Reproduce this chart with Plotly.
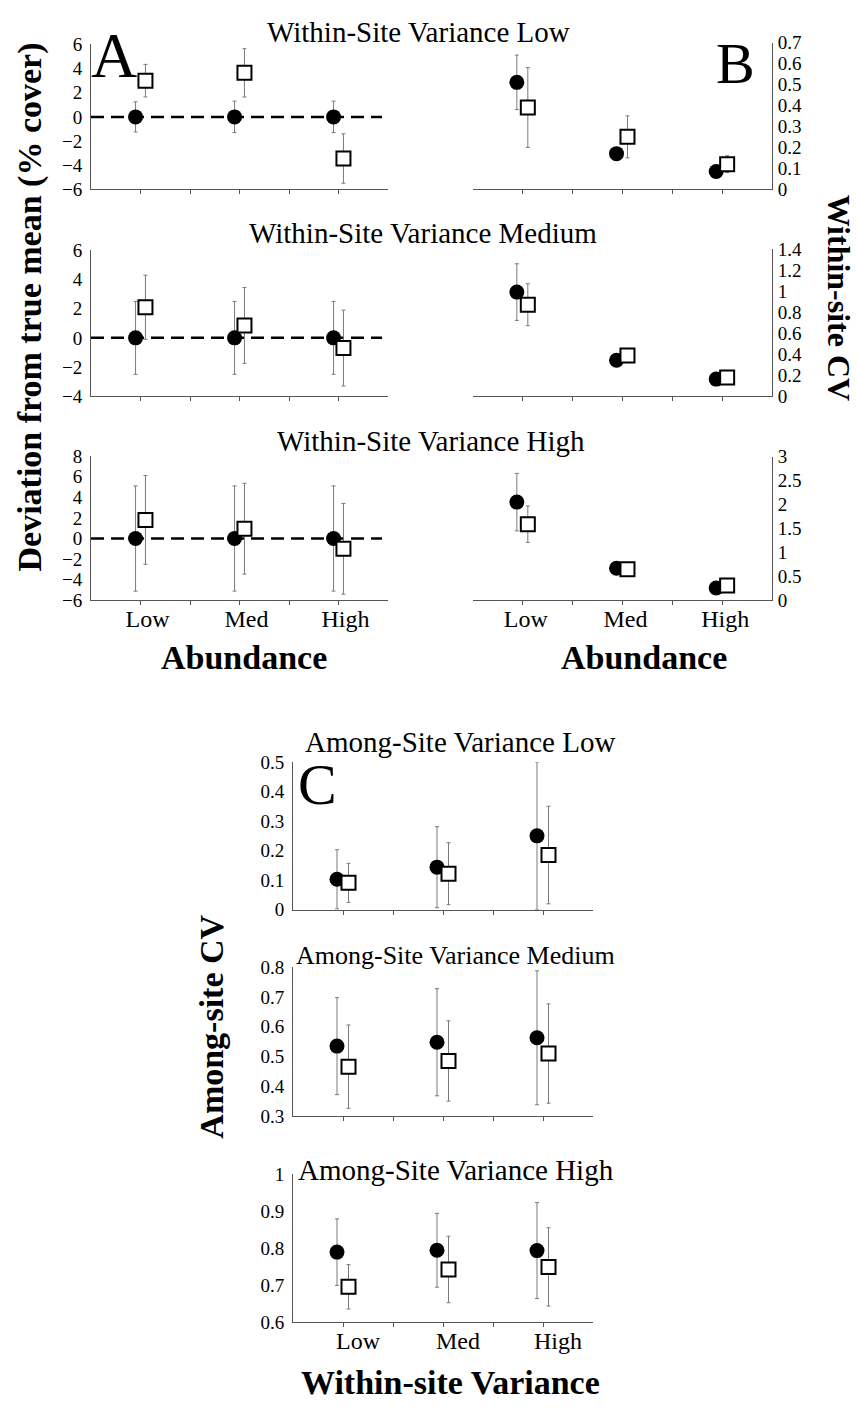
import plotly.graph_objects as go

W, H = 858, 1414

categories = ["Low", "Med", "High"]

# Panel A: deviation from true mean (% cover); rows = within-site variance Low/Medium/High
A_circle_mean = [[0, 0, 0], [0, 0, 0], [0, 0, 0]]
A_circle_err = [[1.25, 1.3, 1.3], [2.5, 2.5, 2.5], [5.1, 5.1, 5.1]]
A_square_mean = [[3.0, 3.65, -3.45], [2.1, 0.85, -0.7], [1.8, 0.95, -1.0]]
A_square_err = [[1.35, 2.0, 2.05], [2.2, 2.6, 2.6], [4.3, 4.4, 4.4]]
A_yranges = [[-6, 6], [-4, 6], [-6, 8]]
A_dtick = [2, 2, 2]

# Panel B: within-site CV
B_circle_mean = [[0.51, 0.17, 0.085], [0.99, 0.34, 0.16], [2.05, 0.67, 0.26]]
B_circle_err = [[0.13, 0.01, 0.01], [0.27, 0.02, 0.02], [0.6, 0.03, 0.03]]
B_square_mean = [[0.39, 0.25, 0.12], [0.87, 0.385, 0.175], [1.59, 0.65, 0.31]]
B_square_err = [[0.19, 0.1, 0.04], [0.2, 0.03, 0.02], [0.38, 0.05, 0.05]]
B_yranges = [[0, 0.7], [0, 1.4], [0, 3]]
B_dtick = [0.1, 0.2, 0.5]

# Panel C: among-site CV; rows = among-site variance Low/Medium/High
C_circle_mean = [[0.103, 0.144, 0.25], [0.535, 0.548, 0.563], [0.789, 0.794, 0.793]]
C_circle_err = [[0.10, 0.137, 0.25], [0.163, 0.18, 0.225], [0.09, 0.10, 0.13]]
C_square_mean = [[0.091, 0.122, 0.185], [0.466, 0.485, 0.51], [0.695, 0.742, 0.749]]
C_square_err = [[0.066, 0.105, 0.165], [0.14, 0.135, 0.167], [0.06, 0.09, 0.106]]
C_yranges = [[0, 0.5], [0.3, 0.8], [0.6, 1.0]]
C_dtick = [0.1, 0.1, 0.1]

FONT = "Liberation Serif"
AX = "#555555"
ERR = "#7a7a7a"


def ydom(p0, p1):
    return [1 - p1 / H, 1 - p0 / H]


def xdom(p0, p1):
    return [p0 / W, p1 / W]


panels = [
    dict(key="A", xd=(91, 388), rows=[(35, 182), (244, 392), (452.7, 599.3)],
         cm=A_circle_mean, ce=A_circle_err, sm=A_square_mean, se=A_square_err,
         yr=A_yranges, dt=A_dtick, side="left", off=(-0.05, 0.05), shift=7),
    dict(key="B", xd=(473, 772), rows=[(33, 182), (242.7, 391.7), (453.3, 599.3)],
         cm=B_circle_mean, ce=B_circle_err, sm=B_square_mean, se=B_square_err,
         yr=B_yranges, dt=B_dtick, side="right", off=(-0.06, 0.05), shift=3),
    dict(key="C", xd=(293, 593), rows=[(763.3, 913.3), (971.7, 1122.7), (1181.7, 1331.7)],
         cm=C_circle_mean, ce=C_circle_err, sm=C_square_mean, se=C_square_err,
         yr=C_yranges, dt=C_dtick, side="left", off=(-0.06, 0.055), shift=15),
]

fig = go.Figure()
layout = dict(width=W, height=H, margin=dict(l=0, r=0, t=0, b=0),
              paper_bgcolor="white", plot_bgcolor="white", showlegend=False,
              font=dict(family=FONT, color="black"))
shapes = []
n = 0
for p in panels:
    for r in range(3):
        n += 1
        xa = "x" if n == 1 else f"x{n}"
        ya = "y" if n == 1 else f"y{n}"
        idx = list(range(len(categories)))
        xc = [i + p["off"][0] for i in idx]
        xs = [i + p["off"][1] for i in idx]
        fig.add_trace(go.Scatter(
            x=xc, y=p["cm"][r], mode="markers", xaxis=xa, yaxis=ya,
            marker=dict(symbol="circle", size=15, color="black", line=dict(width=0)),
            error_y=dict(type="data", array=p["ce"][r], color=ERR, thickness=1, width=2),
            cliponaxis=False))
        fig.add_trace(go.Scatter(
            x=xs, y=p["sm"][r], mode="markers", xaxis=xa, yaxis=ya,
            marker=dict(symbol="square", size=14, color="white", line=dict(width=2, color="black")),
            error_y=dict(type="data", array=p["se"][r], color=ERR, thickness=1, width=2),
            cliponaxis=False))
        last = (r == 2)
        layout["xaxis" if n == 1 else f"xaxis{n}"] = dict(
            domain=xdom(*p["xd"]), anchor=ya, range=[-0.5, 2.5],
            tickvals=[0, 0.5, 1, 1.5, 2],
            ticktext=[categories[0], "", categories[1], "", categories[2]] if last else ["", "", "", "", ""],
            showticklabels=last, ticklabelshift=p["shift"], ticklabelstandoff=-7,
            ticks="outside", ticklen=4, tickcolor=AX, showline=True, linecolor=AX,
            linewidth=1, showgrid=False, zeroline=False,
            tickfont=dict(family=FONT, size=24, color="black"))
        layout["yaxis" if n == 1 else f"yaxis{n}"] = dict(
            domain=ydom(*p["rows"][r]), anchor=xa, range=p["yr"][r], dtick=p["dt"][r],
            side=p["side"], ticks="", showline=True, linecolor=AX, linewidth=1,
            showgrid=False, zeroline=False, ticklabelstandoff=(1 if p["side"] == "right" else 4),
            tickfont=dict(family=FONT, size=19, color="black"))
        if p["key"] == "A":
            shapes.append(dict(type="line", xref=f"{xa} domain", yref=ya,
                               x0=0, x1=0.98, y0=0, y1=0,
                               line=dict(color="black", width=2.5, dash="13px,7px"),
                               layer="below"))

layout["shapes"] = shapes


def ann(text, px, py, size, bold=False, angle=0):
    return dict(text=f"<b>{text}</b>" if bold else text, x=px / W, y=1 - py / H,
                xref="paper", yref="paper", xanchor="center", yanchor="middle",
                showarrow=False, textangle=angle,
                font=dict(family=FONT, size=size, color="black"))


annotations = [
    ann("Within-Site Variance Low", 418, 22, 29),
    ann("Within-Site Variance Medium", 423, 226, 29),
    ann("Within-Site Variance High", 431, 438, 29),
    ann("Among-Site Variance Low", 460, 743, 29),
    ann("Among-Site Variance Medium", 455, 960, 26),
    ann("Among-Site Variance High", 456, 1177, 29),
    ann("A", 114, 46, 64),
    ann("B", 735, 54, 58),
    ann("C", 317, 786, 58),
    ann("Abundance", 244, 657, 34, bold=True),
    ann("Abundance", 644, 657, 34, bold=True),
    ann("Within-site Variance", 450, 1393, 34, bold=True),
    ann("Deviation from true mean (% cover)", 30, 302, 34, bold=True, angle=-90),
    ann("Within-site CV", 839, 292, 32, bold=True, angle=90),
    ann("Among-site CV", 212, 1032, 34, bold=True, angle=-90),
]
layout["annotations"] = annotations
fig.update_layout(**layout)
fig.write_html(
    "out.html",
    post_script="document.documentElement.style.margin='0';"
                "document.documentElement.style.overflow='hidden';"
                "document.body.style.margin='0';document.body.style.overflow='hidden';",
)
